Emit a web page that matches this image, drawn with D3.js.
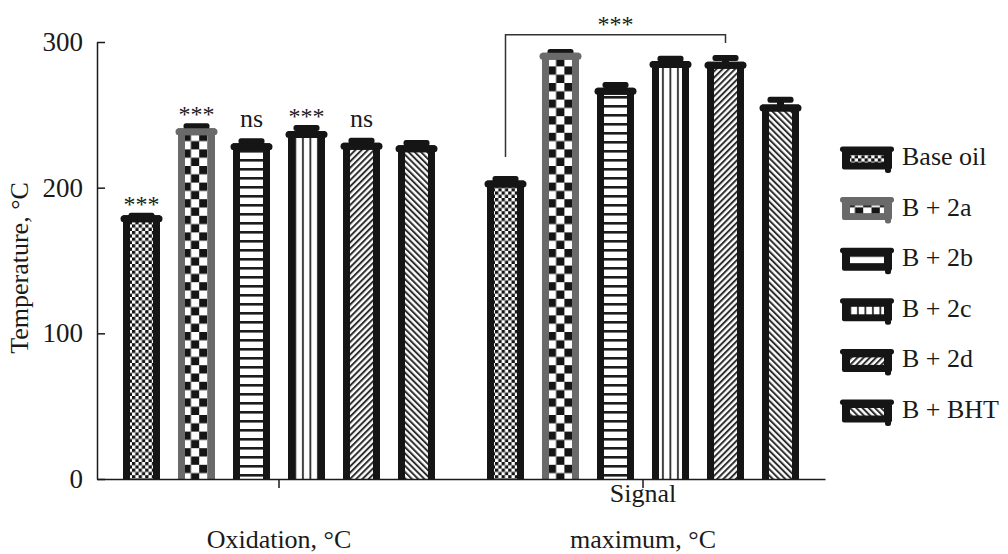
<!DOCTYPE html>
<html>
<head>
<meta charset="utf-8">
<script src="https://cdn.jsdelivr.net/npm/d3@7"></script>
<style>
body { margin: 0; background: #fff; }
text { font-family: "Liberation Serif", "Times New Roman", "DejaVu Serif", serif; fill: #1a1a1a; }
</style>
</head>
<body>
<svg id="chart" width="1008" height="554"></svg>
<script>
// values
var groups = ["Oxidation, °C", "Signal maximum, °C"];
var groupLines = [["Oxidation, °C"], ["Signal", "maximum, °C"]];
var series = ["Base oil", "B + 2a", "B + 2b", "B + 2c", "B + 2d", "B + BHT"];
var oxidation = [178.7, 238.4, 228.1, 236.5, 228.4, 226.7];
var oxidationErr = [4.1, 5.8, 5.8, 6.5, 5.9, 6.0];
var signalMax = [202.5, 290.2, 266.2, 284.6, 284.0, 254.7];
var signalMaxErr = [5.5, 5.0, 6.4, 6.0, 7.1, 7.8];
var oxidationMarks = ["***", "***", "ns", "***", "ns", ""];
var yTicks = [0, 100, 200, 300];

var patternIds = ["chkSmall", "chkLarge", "hLines", "vLines", "diagUp", "diagDown"];
var strokeCol = ["#151515", "#6a6a6a", "#151515", "#151515", "#151515", "#151515"];

var svg = d3.select("#chart");
var defs = svg.append("defs");

// patterns
function checker(id, c) {
	var p = defs.append("pattern").attr("id", id).attr("patternUnits", "userSpaceOnUse")
		.attr("width", 2 * c).attr("height", 2 * c);
	p.append("rect").attr("width", 2 * c).attr("height", 2 * c).attr("fill", "#fff");
	p.append("rect").attr("width", c).attr("height", c).attr("fill", "#151515");
	p.append("rect").attr("x", c).attr("y", c).attr("width", c).attr("height", c).attr("fill", "#151515");
}
checker("chkSmall", 3.3);
checker("chkLarge", 8.3);

var hp = defs.append("pattern").attr("id", "hLines").attr("patternUnits", "userSpaceOnUse")
	.attr("width", 10).attr("height", 9);
hp.append("rect").attr("width", 10).attr("height", 9).attr("fill", "#fff");
hp.append("rect").attr("y", 6).attr("width", 10).attr("height", 2.6).attr("fill", "#1c1c1c");

var vp = defs.append("pattern").attr("id", "vLines").attr("patternUnits", "userSpaceOnUse")
	.attr("width", 7.5).attr("height", 10);
vp.append("rect").attr("width", 7.5).attr("height", 10).attr("fill", "#fff");
vp.append("rect").attr("x", 2).attr("width", 1.8).attr("height", 10).attr("fill", "#2a2a2a");

function diag(id, angle) {
	var p = defs.append("pattern").attr("id", id).attr("patternUnits", "userSpaceOnUse")
		.attr("width", 4.4).attr("height", 10).attr("patternTransform", "rotate(" + angle + ")");
	p.append("rect").attr("width", 4.4).attr("height", 10).attr("fill", "#fff");
	p.append("rect").attr("width", 2).attr("height", 10).attr("fill", "#2e2e2e");
}
diag("diagUp", 45);
diag("diagDown", -45);

// scales
var x0 = d3.scaleBand().domain(groups).range([97, 825]);
var x1 = d3.scaleBand().domain(series).range([-165, 165]);
var y = d3.scaleLinear().domain([0, 300]).range([479, 42]);

function cx(g, s) {
	return x0(g) + x0.bandwidth() / 2 + x1(s) + x1.bandwidth() / 2;
}

var data = [];
series.forEach(function(s, i) {
	data.push({ g: groups[0], s: s, i: i, v: oxidation[i], e: oxidationErr[i], mark: oxidationMarks[i] });
	data.push({ g: groups[1], s: s, i: i, v: signalMax[i], e: signalMaxErr[i], mark: "" });
});

var bw = 30;
var bars = svg.append("g").selectAll("g.bar")
	.data(data)
	.enter().append("g")
	.attr("class", "bar");

bars.append("rect")
	.attr("x", function(d) { return cx(d.g, d.s) - bw / 2; })
	.attr("y", function(d) { return y(d.v); })
	.attr("width", bw)
	.attr("height", function(d) { return y(0) - y(d.v); })
	.attr("fill", function(d) { return "url(#" + patternIds[d.i] + ")"; });

bars.append("path")
	.attr("d", function(d) {
		var c = cx(d.g, d.s);
		return "M" + (c - bw / 2) + "," + y(0) + "V" + y(d.v) + "H" + (c + bw / 2) + "V" + y(0);
	})
	.attr("fill", "none")
	.attr("stroke", function(d) { return strokeCol[d.i]; })
	.attr("stroke-width", 7);

// error bars
bars.append("line")
	.attr("x1", function(d) { return cx(d.g, d.s); })
	.attr("x2", function(d) { return cx(d.g, d.s); })
	.attr("y1", function(d) { return y(d.v); })
	.attr("y2", function(d) { return y(d.v + d.e) + 3; })
	.attr("stroke", "#151515")
	.attr("stroke-width", 7);

bars.append("rect")
	.attr("x", function(d) { return cx(d.g, d.s) - 13; })
	.attr("y", function(d) { return y(d.v + d.e); })
	.attr("width", 26)
	.attr("height", 6)
	.attr("rx", 2.5)
	.attr("fill", "#151515");

// wide top cap
bars.append("line")
	.attr("x1", function(d) { return cx(d.g, d.s) - 17.5; })
	.attr("x2", function(d) { return cx(d.g, d.s) + 17.5; })
	.attr("y1", function(d) { return y(d.v); })
	.attr("y2", function(d) { return y(d.v); })
	.attr("stroke", function(d) { return strokeCol[d.i]; })
	.attr("stroke-width", 7)
	.attr("stroke-linecap", "round");

// significance marks
bars.filter(function(d) { return d.mark; })
	.append("text")
	.attr("x", function(d) { return cx(d.g, d.s); })
	.attr("y", function(d) { return y(d.v + d.e) - (d.mark == "ns" ? 11 : 1); })
	.attr("text-anchor", "middle")
	.style("font-size", function(d) { return d.mark == "ns" ? "26px" : "24px"; })
	.text(function(d) { return d.mark; });

// bracket over signal maximum
var bA = cx(groups[1], series[0]), bB = cx(groups[1], series[4]);
var bTop = y(305);
svg.append("path")
	.attr("d", "M" + bA + "," + (y(signalMax[0] + signalMaxErr[0]) - 19) + "V" + bTop +
		"H" + bB + "V" + (y(signalMax[4] + signalMaxErr[4]) - 12))
	.attr("fill", "none")
	.attr("stroke", "#333")
	.attr("stroke-width", 1.5);
svg.append("text")
	.attr("x", (bA + bB) / 2)
	.attr("y", bTop - 3)
	.attr("text-anchor", "middle")
	.style("font-size", "24px")
	.text("***");

// axes
var yAxis = svg.append("g")
	.attr("transform", "translate(97,0)")
	.call(d3.axisLeft(y).tickValues(yTicks).tickSizeInner(-8).tickSizeOuter(0).tickPadding(14));
yAxis.selectAll("path, line").attr("stroke", "#1a1a1a").attr("stroke-width", 1.5);
yAxis.selectAll("text").style("font-size", "27px").attr("fill", "#1a1a1a")
	.style("font-family", "'Liberation Serif', 'DejaVu Serif', serif");

var xAxis = svg.append("g")
	.attr("transform", "translate(0," + y(0) + ")")
	.call(d3.axisBottom(x0).tickSizeInner(9).tickSizeOuter(0).tickFormat(""));
xAxis.selectAll("path, line").attr("stroke", "#1a1a1a").attr("stroke-width", 1.5);

// group labels, bottom aligned
groups.forEach(function(g, i) {
	var lines = groupLines[i];
	lines.forEach(function(t, j) {
		svg.append("text")
			.attr("x", x0(g) + x0.bandwidth() / 2)
			.attr("y", 548 - (lines.length - 1 - j) * 46)
			.attr("text-anchor", "middle")
			.style("font-size", "26px")
			.text(t);
	});
});

svg.append("text")
	.attr("transform", "translate(28,268) rotate(-90)")
	.attr("text-anchor", "middle")
	.style("font-size", "26px")
	.text("Temperature, °C");

// legend
var leg = svg.append("g").selectAll("g")
	.data(series)
	.enter().append("g")
	.attr("transform", function(d, i) { return "translate(0," + (165 + i * 50.6) + ")"; });

leg.append("rect").attr("x", 842).attr("y", -15).attr("width", 50).attr("height", 19.5).attr("rx", 2)
	.attr("fill", function(d, i) { return strokeCol[i]; });
leg.append("rect").attr("x", 840).attr("y", -18.5).attr("width", 54).attr("height", 5.5).attr("rx", 2.7)
	.attr("fill", function(d, i) { return strokeCol[i]; });
leg.append("rect").attr("x", 885).attr("y", 2).attr("width", 6).attr("height", 6).attr("rx", 2.5)
	.attr("fill", function(d, i) { return strokeCol[i]; });
leg.append("rect").attr("x", 850).attr("y", -10).attr("width", 34).attr("height", 7.5)
	.attr("fill", function(d, i) { return "url(#" + patternIds[i] + ")"; });
leg.append("text").attr("x", 902).attr("y", 0)
	.style("font-size", "26px")
	.text(function(d) { return d; });
</script>
</body>
</html>
